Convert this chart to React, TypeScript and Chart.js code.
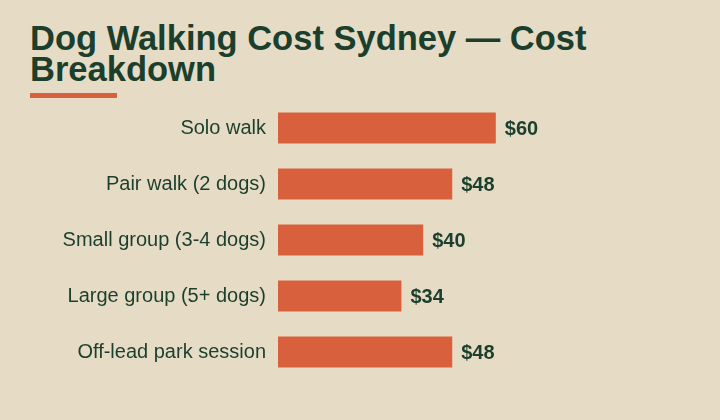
import React, { useEffect, useRef } from 'react';
import { Chart, registerables, Plugin } from 'chart.js';

Chart.register(...registerables);

const categories = [
  'Solo walk',
  'Pair walk (2 dogs)',
  'Small group (3-4 dogs)',
  'Large group (5+ dogs)',
  'Off-lead park session',
];
const costs = [60, 48, 40, 34, 48];

const BG = '#e6dcc5';
const GREEN = '#1b3f2c';
const ORANGE = '#d9603d';
const FONT = '"Liberation Sans", Arial, Helvetica, sans-serif';

// draws "$60" etc. just past the end of each bar
const valueLabels: Plugin<'bar'> = {
  id: 'valueLabels',
  afterDatasetsDraw(chart) {
    const ctx = chart.ctx;
    const meta = chart.getDatasetMeta(0);
    ctx.save();
    ctx.font = `bold 20px ${FONT}`;
    ctx.fillStyle = GREEN;
    ctx.textAlign = 'left';
    ctx.textBaseline = 'middle';
    meta.data.forEach((bar, i) => {
      ctx.fillText(`$${costs[i]}`, bar.x + 9, bar.y + 1);
    });
    ctx.restore();
  },
};

const App: React.FC = () => {
  const canvasRef = useRef<HTMLCanvasElement>(null);
  const chartRef = useRef<Chart | null>(null);

  useEffect(() => {
    if (!canvasRef.current) return;
    if (chartRef.current) chartRef.current.destroy();

    chartRef.current = new Chart(canvasRef.current, {
      type: 'bar',
      data: {
        labels: categories,
        datasets: [
          {
            data: costs,
            backgroundColor: ORANGE,
            borderWidth: 0,
            categoryPercentage: 0.55,
            barPercentage: 1,
          },
        ],
      },
      options: {
        indexAxis: 'y',
        animation: false,
        responsive: false,
        maintainAspectRatio: false,
        layout: { padding: { left: 0, right: 79, top: 0, bottom: 0 } },
        plugins: {
          legend: { display: false },
          tooltip: { enabled: false },
        },
        scales: {
          x: {
            display: false,
            min: 0,
            max: 100,
          },
          y: {
            grid: { display: false, drawTicks: false },
            border: { display: false },
            afterFit: (scale) => {
              scale.width = 278;
              scale.paddingTop = 0;
              scale.paddingBottom = 0;
            },
            ticks: {
              padding: 12,
              color: GREEN,
              font: { family: FONT, size: 20 },
            },
          },
        },
      },
      plugins: [valueLabels],
    });

    return () => {
      if (chartRef.current) {
        chartRef.current.destroy();
        chartRef.current = null;
      }
    };
  }, []);

  return (
    <div
      style={{
        position: 'fixed',
        inset: 0,
        width: 720,
        height: 420,
        background: BG,
        fontFamily: FONT,
        overflow: 'hidden',
      }}
    >
      <div
        style={{
          position: 'absolute',
          left: 30,
          top: 23,
          width: 640,
          fontSize: 34.5,
          lineHeight: '31px',
          fontWeight: 'bold',
          color: GREEN,
        }}
      >
        Dog Walking Cost Sydney — Cost Breakdown
      </div>
      <div
        style={{
          position: 'absolute',
          left: 30,
          top: 93,
          width: 87,
          height: 5,
          background: ORANGE,
        }}
      />
      <canvas
        ref={canvasRef}
        width={720}
        height={280}
        style={{ position: 'absolute', left: 0, top: 100, width: 720, height: 280 }}
      />
    </div>
  );
};

export default App;
